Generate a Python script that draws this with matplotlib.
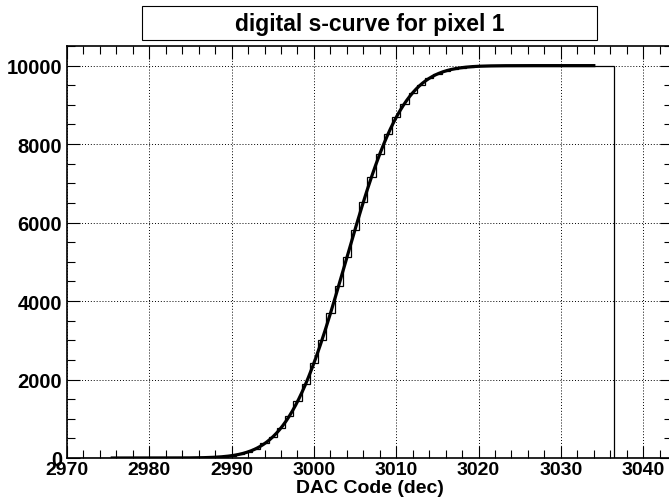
import math
import numpy as np
import matplotlib.pyplot as plt
from matplotlib.patches import Rectangle
from matplotlib.ticker import MultipleLocator

plt.rcParams['font.family'] = ['Liberation Sans', 'DejaVu Sans']
plt.rcParams['font.weight'] = 'bold'

# hit counts per DAC code, 10000 injections each, codes 2970..3043
dac_first = 2970
counts = [
    0, 0, 0, 0, 0, 0, 0, 0, 0, 0, 0, 0, 0, 1, 2,
    3, 7, 12, 19, 36, 61, 95, 158, 240, 371,
    534, 772, 1061, 1442, 1884, 2427, 3015, 3690, 4378, 5112,
    5821, 6527, 7160, 7752, 8249, 8686, 9028, 9311, 9516, 9678,
    9784, 9866, 9913, 9952, 9970, 9984, 9990, 9995, 9998, 9999,
    10000, 10000, 10000, 10000, 10000, 10000, 10000, 10000, 10000, 10000, 10000, 10000,
    0, 0, 0, 0, 0, 0, 0,
]

# error-function fit result
fit_amp = 10000.0
fit_mean = 3003.85
fit_sigma = 5.5
fit_range = (2975.5, 3034.0)

edges = dac_first - 0.5 + np.arange(len(counts) + 1)
x_fit = np.linspace(fit_range[0], fit_range[1], 600)
y_fit = np.array([0.5 * fit_amp * (1 + math.erf((x - fit_mean) / (fit_sigma * math.sqrt(2))))
                  for x in x_fit])

fig = plt.figure(figsize=(6.69, 5.02), dpi=100)
W, H = 669, 502
ax = fig.add_axes([67 / W, (H - 459) / H, 605 / W, 412 / H])

ax.stairs(counts, edges, color='black', lw=0.9, baseline=0)
ax.plot(x_fit, y_fit, color='black', lw=2.3)

ax.set_xlim(2970, 3043.5)
ax.set_ylim(0, 10500)
ax.xaxis.set_major_locator(MultipleLocator(10))
ax.xaxis.set_minor_locator(MultipleLocator(2))
ax.yaxis.set_major_locator(MultipleLocator(2000))
ax.yaxis.set_minor_locator(MultipleLocator(500))
ax.tick_params(which='both', direction='in', top=True, right=True, width=0.8)
ax.tick_params(which='major', length=9)
ax.tick_params(which='minor', length=5.5)
ax.tick_params(axis='x', which='major', pad=2.5, labelsize=14)
ax.tick_params(axis='y', which='major', pad=3.5, labelsize=14.5)
ax.grid(True, which='major', color='black', lw=0.7, linestyle=(0, (1, 2)))
for s in ax.spines.values():
    s.set_linewidth(1.2)

ax.set_xlabel('DAC Code (dec)', fontsize=14, fontweight='bold', labelpad=0.5)

# title box
fig.add_artist(Rectangle((142 / W, (H - 41) / H), 455 / W, 34 / H,
                         transform=fig.transFigure, fill=False,
                         edgecolor='black', lw=0.8))
fig.text(369.5 / W, (H - 24) / H, 'digital s-curve for pixel 1',
         ha='center', va='center', fontsize=16.5, fontweight='bold')

fig.savefig('out.png', dpi=100)
